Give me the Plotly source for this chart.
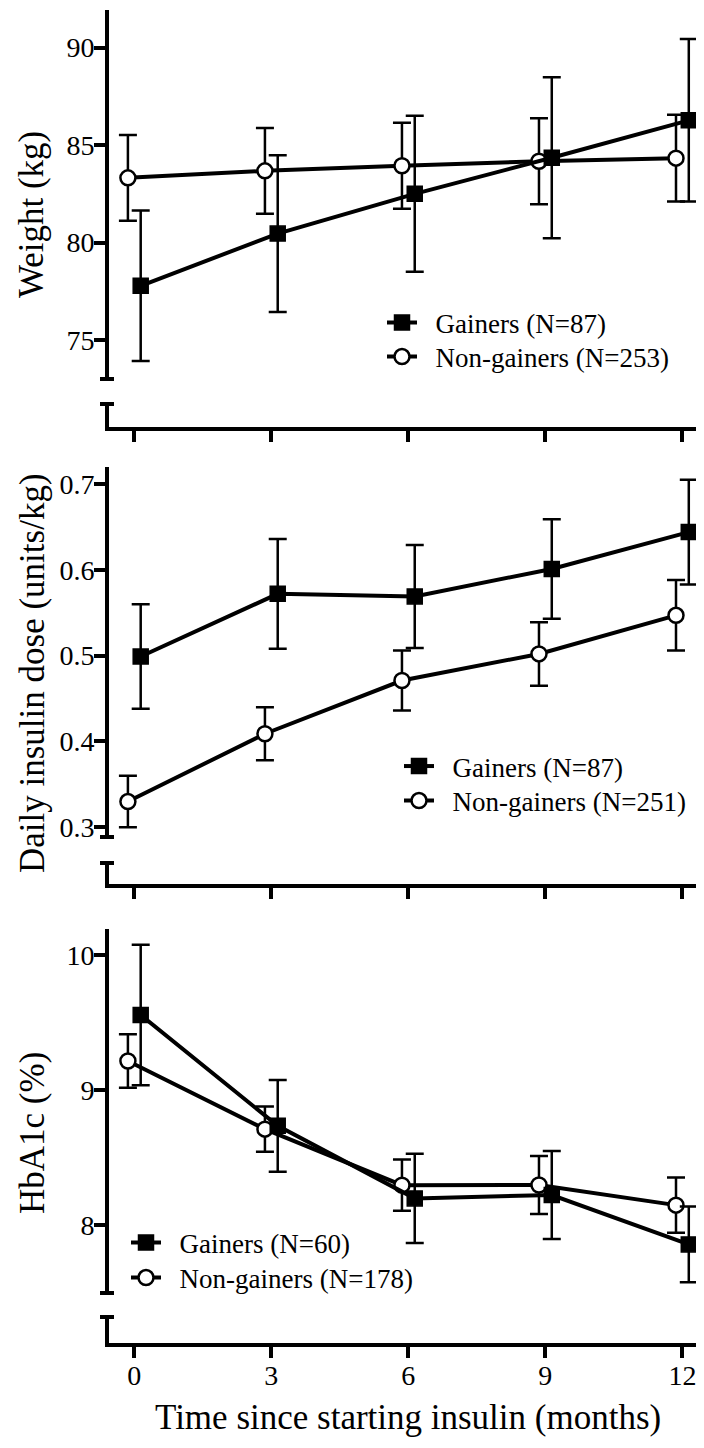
import plotly.graph_objects as go

# ---------------- data ----------------
months = [0, 3, 6, 9, 12]
month_ticks = ["0", "3", "6", "9", "12"]

weight_gainers = [77.78, 80.46, 82.50, 84.35, 86.27]
weight_gainers_err = [3.86, 4.02, 4.00, 4.13, 4.17]
weight_nongainers = [83.32, 83.68, 83.94, 84.17, 84.33]
weight_nongainers_err = [2.20, 2.20, 2.21, 2.21, 2.22]

insulin_gainers = [0.499, 0.572, 0.569, 0.601, 0.644]
insulin_gainers_err = [0.061, 0.064, 0.060, 0.058, 0.061]
insulin_nongainers = [0.330, 0.409, 0.471, 0.502, 0.547]
insulin_nongainers_err = [0.030, 0.031, 0.035, 0.037, 0.041]

hba1c_gainers = [9.556, 8.735, 8.197, 8.222, 7.856]
hba1c_gainers_err = [0.52, 0.34, 0.33, 0.326, 0.28]
hba1c_nongainers = [9.215, 8.710, 8.295, 8.296, 8.147]
hba1c_nongainers_err = [0.198, 0.167, 0.19, 0.215, 0.204]

weight_ticks = [75, 80, 85, 90]
insulin_ticks = [0.3, 0.4, 0.5, 0.6, 0.7]
insulin_ticklabels = ["0.3", "0.4", "0.5", "0.6", "0.7"]
hba1c_ticks = [8, 9, 10]

panel_titles = ["Weight (kg)", "Daily insulin dose (units/kg)", "HbA1c (%)"]
gainer_names = ["Gainers (N=87)", "Gainers (N=87)", "Gainers (N=60)"]
nongainer_names = ["Non-gainers (N=253)", "Non-gainers (N=251)", "Non-gainers (N=178)"]
x_title = "Time since starting insulin (months)"

# ---------------- layout geometry ----------------
# The page body has an 8px margin, so the figure is drawn 8px in from the
# window edge; geometry below is given in window pixels and converted.
BODY = 8
W, H = 696, 1432
L = 101
PW = W - L
FONT = "Liberation Serif, Times New Roman, serif"
LW = 4
OFFSET = 0.14
XRANGE = [-0.554, 12.473]


def fx(p):
    return (p - BODY - L) / PW


def fy(p):
    return 1 - (p - BODY) / H


AX_X = BODY + L - LW / 2  # window x of the y-axis line centre

panels = [
    dict(main=(10, 379), stub=(404, 426.5), yrange=[73.0, 91.93], ticks=weight_ticks,
         ticktext=[str(t) for t in weight_ticks],
         g=weight_gainers, ge=weight_gainers_err, n=weight_nongainers, ne=weight_nongainers_err,
         legend_x=382, legend_y=(323, 357), title_y=214),
    dict(main=(467, 837), stub=(863, 884), yrange=[0.2887, 0.7198], ticks=insulin_ticks,
         ticktext=insulin_ticklabels,
         g=insulin_gainers, ge=insulin_gainers_err, n=insulin_nongainers, ne=insulin_nongainers_err,
         legend_x=399, legend_y=(766.5, 801), title_y=673),
    dict(main=(929, 1293), stub=(1317, 1343), yrange=[7.496, 10.193], ticks=hba1c_ticks,
         ticktext=[str(t) for t in hba1c_ticks],
         g=hba1c_gainers, ge=hba1c_gainers_err, n=hba1c_nongainers, ne=hba1c_nongainers_err,
         legend_x=126, legend_y=(1243, 1278), title_y=1133),
]

fig = go.Figure()
layout = dict(
    template="none",
    width=W, height=H,
    margin=dict(l=L, r=0, t=0, b=0, pad=0, autoexpand=False),
    paper_bgcolor="white", plot_bgcolor="white",
    font=dict(family=FONT, color="black", size=28),
    showlegend=True,
)
shapes = []
annotations = []
legend_count = 0


def next_legend():
    global legend_count
    legend_count += 1
    return "legend" if legend_count == 1 else f"legend{legend_count}"


for i, p in enumerate(panels):
    mi = 2 * i + 1
    si = 2 * i + 2
    xm, ym = f"x{mi}" if mi > 1 else "x", f"y{mi}" if mi > 1 else "y"

    gx = [m + OFFSET for m in months]
    nx = [m - OFFSET for m in months]

    leg_g = next_legend()
    leg_n = next_legend()

    fig.add_trace(go.Scatter(
        x=nx, y=p["n"], xaxis=xm, yaxis=ym, mode="lines+markers",
        name="\u00a0\u00a0" + nongainer_names[i], legend=leg_n,
        line=dict(color="black", width=4),
        marker=dict(symbol="circle", size=15, color="white", line=dict(color="black", width=2.5)),
        error_y=dict(type="data", array=p["ne"], visible=True, color="black", thickness=2.5, width=9),
    ))
    fig.add_trace(go.Scatter(
        x=gx, y=p["g"], xaxis=xm, yaxis=ym, mode="lines+markers",
        name="\u00a0\u00a0" + gainer_names[i], legend=leg_g,
        line=dict(color="black", width=4),
        marker=dict(symbol="square", size=15, color="black", line=dict(color="black", width=1.5)),
        error_y=dict(type="data", array=p["ge"], visible=True, color="black", thickness=2.5, width=9),
    ))
    # empty placeholder so the broken-axis stub subplot is created
    fig.add_trace(go.Scatter(x=[None], y=[None], xaxis=f"x{si}", yaxis=f"y{si}",
                             mode="markers", showlegend=False, hoverinfo="skip"))

    m0, m1 = p["main"]
    s0, s1 = p["stub"]

    xname = "xaxis" if mi == 1 else f"xaxis{mi}"
    yname = "yaxis" if mi == 1 else f"yaxis{mi}"
    layout[xname] = dict(domain=[0, 1], range=XRANGE, anchor=ym, visible=False,
                         showgrid=False, zeroline=False)
    layout[yname] = dict(domain=[fy(m1), fy(m0)], range=p["yrange"], anchor=xm,
                         showline=True, linewidth=LW, linecolor="black",
                         ticks="outside", ticklen=11, tickwidth=LW, tickcolor="black",
                         ticklabelstandoff=-6,
                         tickvals=p["ticks"], ticktext=p["ticktext"],
                         tickfont=dict(family=FONT, size=28, color="black"),
                         showgrid=False, zeroline=False, automargin=False)
    layout[f"xaxis{si}"] = dict(domain=[0, 1], range=XRANGE, anchor=f"y{si}",
                                showline=True, linewidth=LW, linecolor="black",
                                ticks="outside", ticklen=11, tickwidth=LW, tickcolor="black",
                                ticklabelstandoff=-7,
                                tickvals=months, ticktext=month_ticks,
                                showticklabels=(i == 2),
                                tickfont=dict(family=FONT, size=28, color="black"),
                                showgrid=False, zeroline=False, automargin=False)
    layout[f"yaxis{si}"] = dict(domain=[fy(s1), fy(s0)], range=[0, 1], anchor=f"x{si}",
                                showline=True, linewidth=LW, linecolor="black",
                                ticks="", showticklabels=False,
                                showgrid=False, zeroline=False, automargin=False)

    # axis break caps
    for yy in (m1, s0):
        shapes.append(dict(type="line", xref="paper", yref="paper",
                           x0=fx(AX_X - 7), x1=fx(AX_X + 7), y0=fy(yy), y1=fy(yy),
                           line=dict(color="black", width=LW)))

    annotations.append(dict(text=panel_titles[i], xref="paper", yref="paper",
                            x=fx(32), y=fy(p["title_y"]), xanchor="center", yanchor="middle",
                            textangle=-90, showarrow=False,
                            font=dict(family=FONT, size=35, color="black")))

    for leg, ly in ((leg_g, p["legend_y"][0]), (leg_n, p["legend_y"][1])):
        layout[leg] = dict(x=fx(p["legend_x"]), y=fy(ly), xanchor="left", yanchor="middle",
                           bgcolor="rgba(0,0,0,0)", borderwidth=0, itemwidth=30,
                           tracegroupgap=0, font=dict(family=FONT, size=27, color="black"))

annotations.append(dict(text=x_title, xref="paper", yref="paper",
                        x=fx(408), y=fy(1417), xanchor="center", yanchor="middle",
                        showarrow=False, font=dict(family=FONT, size=35, color="black")))

layout["shapes"] = shapes
layout["annotations"] = annotations
fig.update_layout(**layout)

fig.write_html("out.html")
